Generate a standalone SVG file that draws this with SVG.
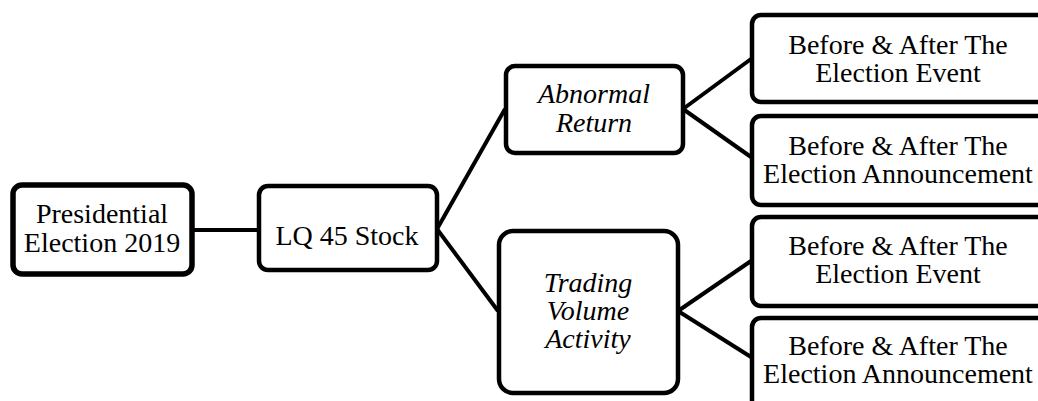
<svg xmlns="http://www.w3.org/2000/svg" width="1038" height="401" viewBox="0 0 1038 401">
<style>
.box{fill:#fff;stroke:#000;stroke-width:4.5}
.t{font-family:"Liberation Serif","Times New Roman",serif;font-size:28px;fill:#000;text-anchor:middle}
.i{font-style:italic}
.c{stroke:#000;stroke-width:4;fill:none}
</style>
<rect width="1038" height="401" fill="#fff"/>
<g id="connectors">
<line class="c" x1="192" y1="230" x2="258" y2="230"/>
<line class="c" x1="437" y1="229" x2="505" y2="109"/>
<line class="c" x1="437" y1="229" x2="498" y2="311"/>
<line class="c" x1="683" y1="109" x2="751" y2="59"/>
<line class="c" x1="683" y1="109" x2="751" y2="157"/>
<line class="c" x1="678" y1="311" x2="751" y2="261"/>
<line class="c" x1="678" y1="311" x2="751" y2="357"/>
</g>
<g id="presidential">
<rect class="box" x="13" y="185" width="179" height="89" rx="9" style="stroke-width:5.5"/>
<text class="t" x="102" y="223">Presidential</text>
<text class="t" x="102" y="252">Election 2019</text>
</g>
<g id="lq45">
<rect class="box" x="259" y="186" width="178" height="84" rx="9"/>
<text class="t" x="347" y="245">LQ 45 Stock</text>
</g>
<g id="abnormal">
<rect class="box" x="506" y="66" width="177" height="87" rx="9"/>
<text class="t i" x="594" y="103">Abnormal</text>
<text class="t i" x="594" y="132">Return</text>
</g>
<g id="trading">
<rect class="box" x="499" y="231" width="179" height="162" rx="14"/>
<text class="t i" x="588" y="292">Trading</text>
<text class="t i" x="588" y="320">Volume</text>
<text class="t i" x="588" y="348">Activity</text>
</g>
<g id="ar-event">
<rect class="box" x="752" y="15" width="300" height="87" rx="9"/>
<text class="t" x="898" y="54">Before &amp; After The</text>
<text class="t" x="898" y="82">Election Event</text>
</g>
<g id="ar-announcement">
<rect class="box" x="752" y="116" width="300" height="89" rx="9"/>
<text class="t" x="898" y="155">Before &amp; After The</text>
<text class="t" x="898" y="183">Election Announcement</text>
</g>
<g id="tv-event">
<rect class="box" x="752" y="217" width="300" height="89" rx="9"/>
<text class="t" x="898" y="255">Before &amp; After The</text>
<text class="t" x="898" y="283">Election Event</text>
</g>
<g id="tv-announcement">
<rect class="box" x="752" y="318" width="300" height="95" rx="9"/>
<text class="t" x="898" y="355">Before &amp; After The</text>
<text class="t" x="898" y="383">Election Announcement</text>
</g>
</svg>
